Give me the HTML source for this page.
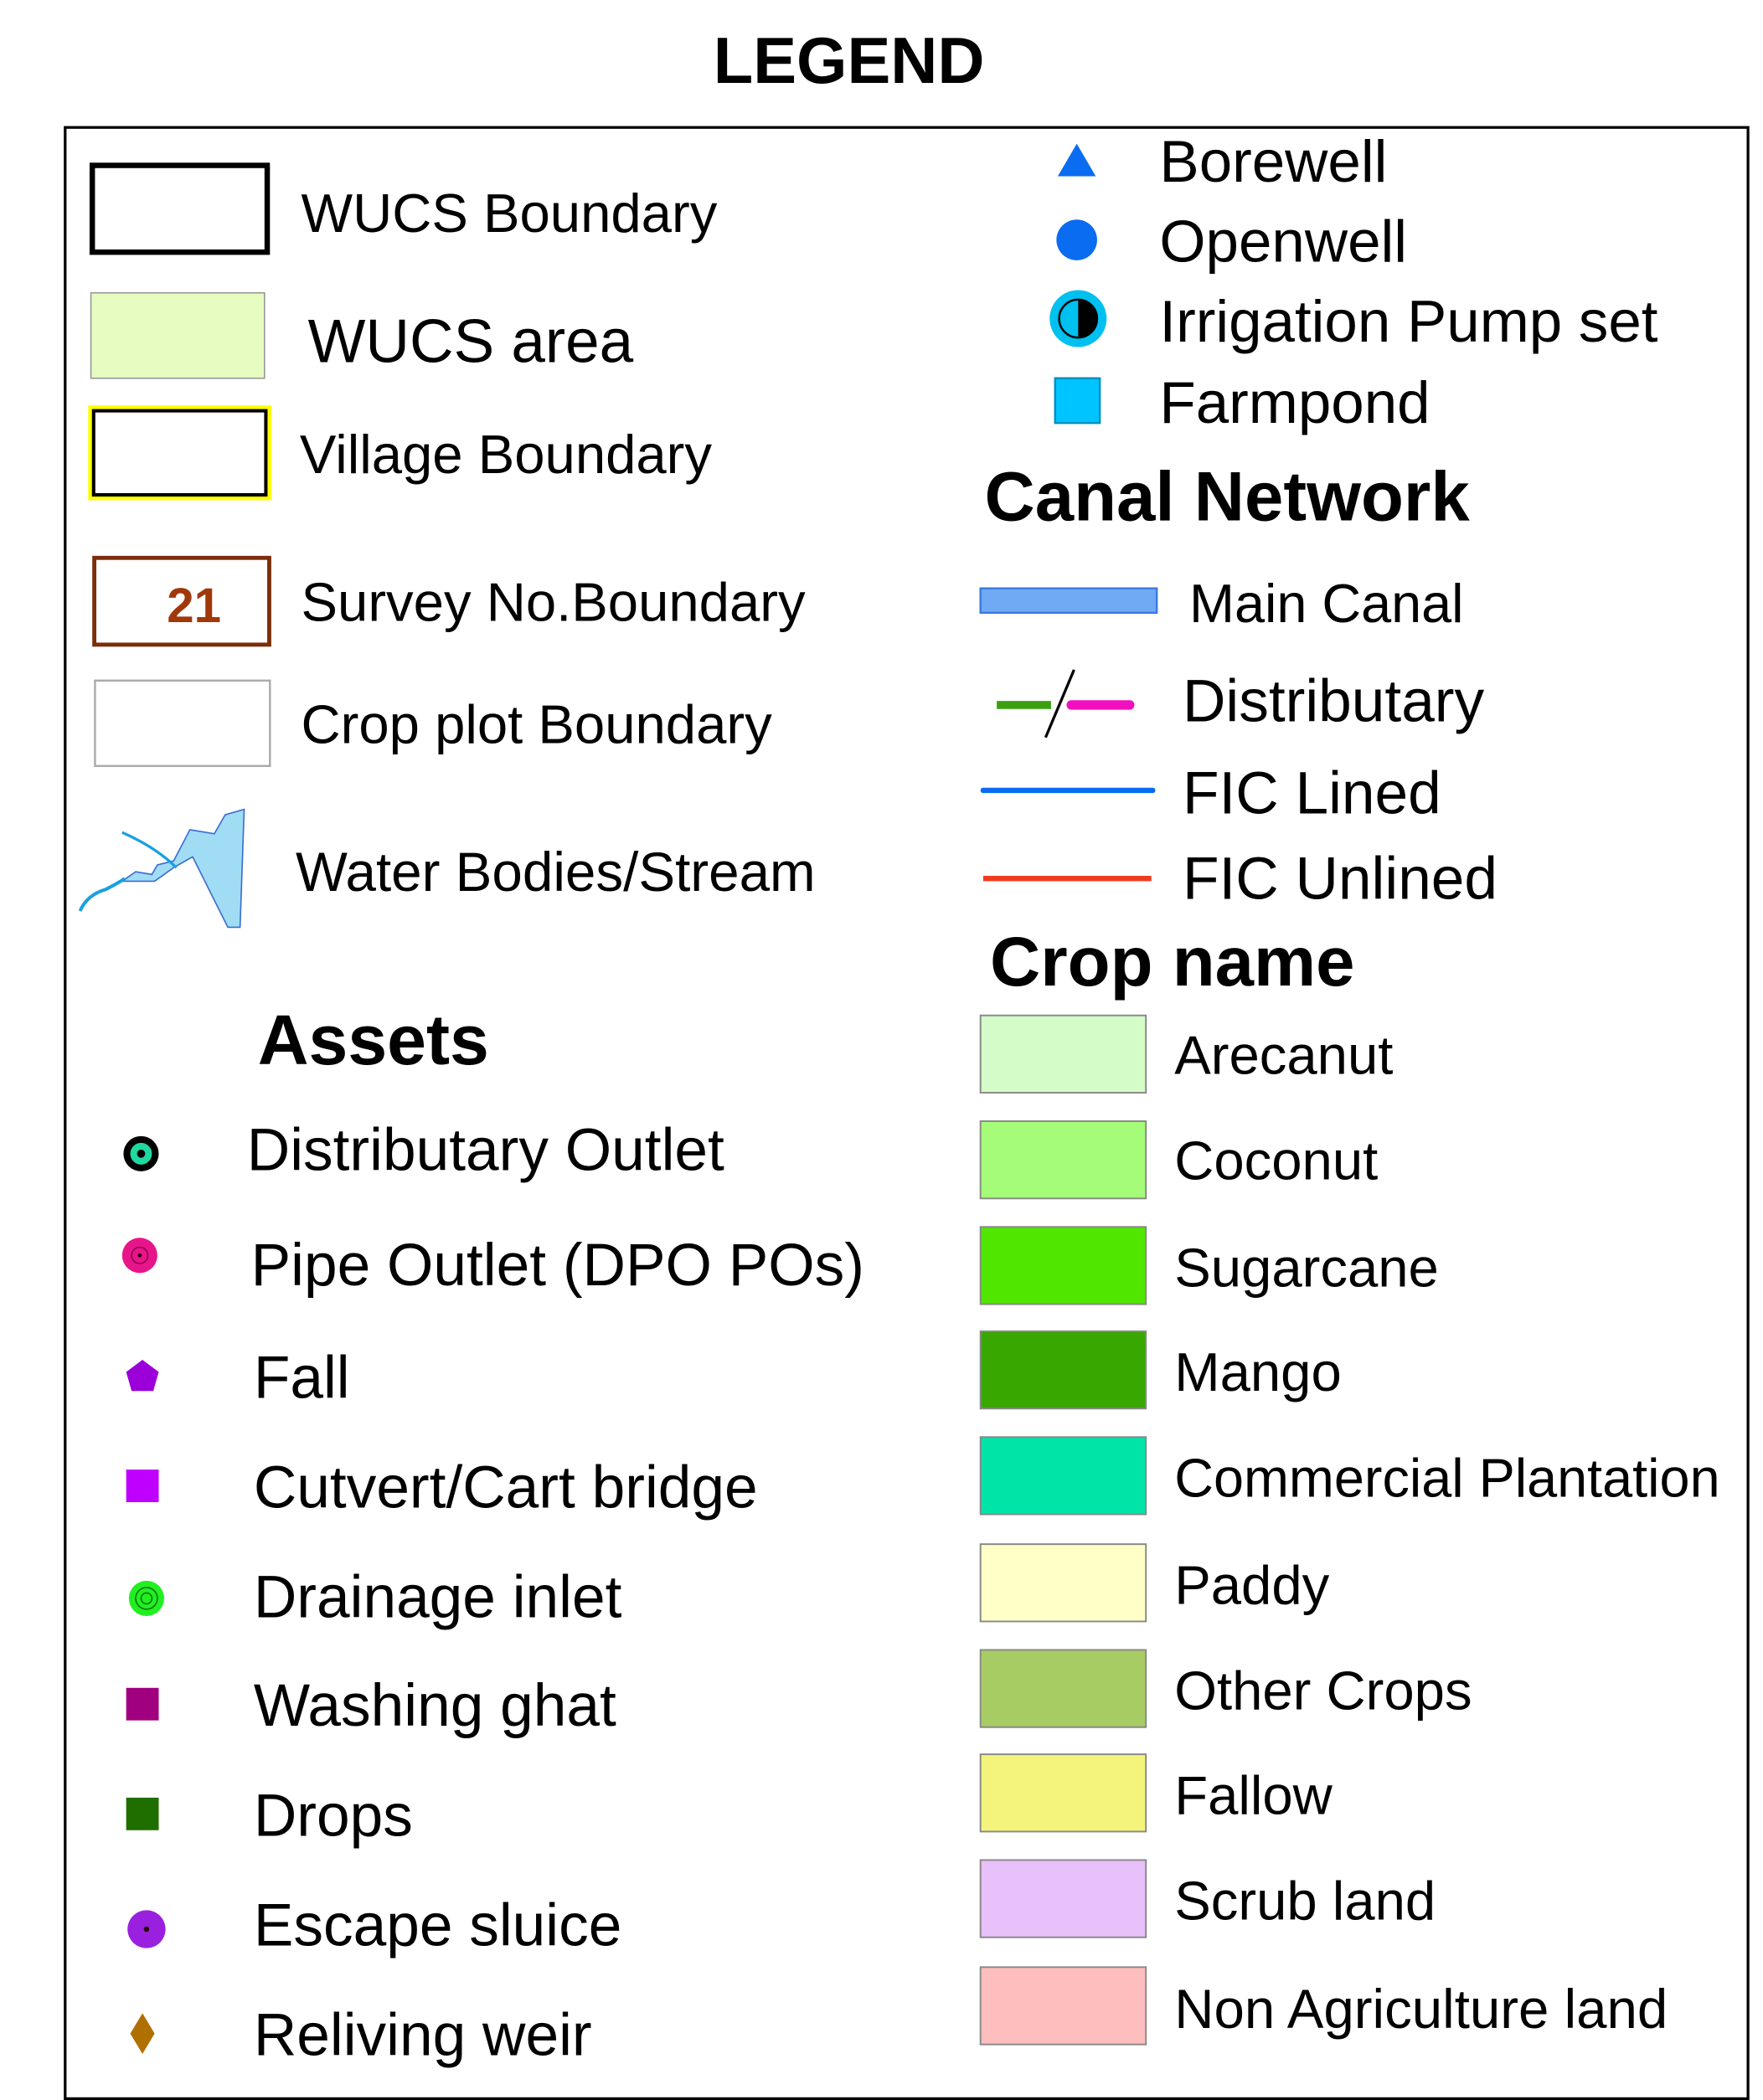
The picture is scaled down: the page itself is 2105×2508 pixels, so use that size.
<!DOCTYPE html>
<html><head><meta charset="utf-8"><style>
html,body{margin:0;padding:0;background:#fff;}
svg{display:block;}
text{font-family:"Liberation Sans",Arial,sans-serif;fill:#000;}
</style></head><body>
<svg width="2105" height="2508" viewBox="0 0 1300 1549" xmlns="http://www.w3.org/2000/svg">
<rect width="1300" height="1549" fill="#fff"/>
<text x="626" y="61" font-size="48" font-weight="bold" text-anchor="middle">LEGEND</text>
<rect x="48" y="94" width="1241" height="1454" fill="none" stroke="#000" stroke-width="2"/>

<!-- left column -->
<rect x="68" y="122" width="129" height="64" fill="none" stroke="#000" stroke-width="4"/>
<text x="222" y="171" font-size="40.3">WUCS Boundary</text>
<rect x="67" y="216" width="128" height="63" fill="#e6fcc0" stroke="#999" stroke-width="1"/>
<text x="227" y="267" font-size="45">WUCS area</text>
<rect x="67" y="301" width="131" height="66" fill="none" stroke="#ffff00" stroke-width="4"/>
<rect x="69" y="303" width="127" height="62" fill="none" stroke="#000" stroke-width="2.5"/>
<text x="221" y="349" font-size="40.3">Village Boundary</text>
<rect x="69.5" y="411.5" width="129" height="64" fill="none" stroke="#7a2e0a" stroke-width="3"/>
<text x="143" y="459" font-size="36" font-weight="bold" text-anchor="middle" style="fill:#a0380a">21</text>
<text x="222" y="458" font-size="40.3">Survey No.Boundary</text>
<rect x="70" y="502" width="129" height="63" fill="none" stroke="#aaa" stroke-width="1.5"/>
<text x="222" y="548" font-size="40.3">Crop plot Boundary</text>
<path d="M90,650 L100,643 L112,645 L116,638 L128,635 L140,612 L158,615 L166,601 L180,597 L177,684 L168,684 L152,652 L142,632 L128,640 L114,650 Z" fill="#a0dcf4" stroke="#3a6cd0" stroke-width="1"/>
<path d="M59,672 Q64,660 78,656 Q86,652 92,648" fill="none" stroke="#1aa0e0" stroke-width="2.5"/>
<path d="M90,614 Q115,625 130,640" fill="none" stroke="#1aa0e0" stroke-width="2"/>
<text x="218" y="657" font-size="40.5">Water Bodies/Stream</text>

<text x="190" y="785" font-size="52" font-weight="bold">Assets</text>
<circle cx="104" cy="851" r="13" fill="#000"/><circle cx="104" cy="851" r="8" fill="#20d8a0"/><circle cx="104" cy="851" r="3" fill="#000"/>
<text x="182" y="863" font-size="44">Distributary Outlet</text>
<circle cx="103" cy="926" r="13" fill="#e8158a"/><circle cx="103" cy="926" r="6" fill="none" stroke="#900050" stroke-width="1"/><circle cx="103" cy="926" r="1.5" fill="#300"/>
<text x="185" y="948" font-size="44">Pipe Outlet (DPO POs)</text>
<polygon points="105,1003 117,1012 113,1026 97,1026 93,1012" fill="#9b00d8"/>
<text x="187" y="1031" font-size="44">Fall</text>
<rect x="93" y="1084" width="24" height="24" fill="#c000ff"/>
<text x="187" y="1112" font-size="44">Cutvert/Cart bridge</text>
<circle cx="108" cy="1179" r="13" fill="#22ee22"/><circle cx="108" cy="1179" r="8" fill="none" stroke="#0a7a0a" stroke-width="1"/><circle cx="108" cy="1179" r="4" fill="none" stroke="#0a7a0a" stroke-width="1"/>
<text x="187" y="1193" font-size="44">Drainage inlet</text>
<rect x="93" y="1245" width="24" height="24" fill="#a0007f"/>
<text x="187" y="1273" font-size="44">Washing ghat</text>
<rect x="93" y="1326" width="24" height="24" fill="#1f6e00"/>
<text x="187" y="1354" font-size="44">Drops</text>
<circle cx="108" cy="1423" r="14" fill="#9a20e0"/><circle cx="108" cy="1423" r="2" fill="#200"/>
<text x="187" y="1435" font-size="44">Escape sluice</text>
<polygon points="105,1485 114,1500 105,1515 96,1500" fill="#b07000"/>
<text x="187" y="1516" font-size="44">Reliving weir</text>

<!-- right column -->
<polygon points="794,106 808,130 780,130" fill="#0a6cf0"/>
<text x="855" y="134" font-size="43.8">Borewell</text>
<circle cx="794" cy="177" r="15" fill="#0a6cf0"/>
<text x="855" y="193" font-size="43.8">Openwell</text>
<circle cx="795" cy="235" r="21" fill="#00c0f0"/>
<circle cx="795" cy="235" r="14" fill="#00c0f0" stroke="#000" stroke-width="1.5"/>
<path d="M795,221 A14,14 0 0 1 795,249 Z" fill="#000"/>
<text x="855" y="252" font-size="43.8">Irrigation Pump set</text>
<rect x="778" y="279" width="33" height="33" fill="#00c4ff" stroke="#0090c0" stroke-width="1.5"/>
<text x="855" y="312" font-size="43.8">Farmpond</text>

<text x="726" y="384" font-size="51.5" font-weight="bold">Canal Network</text>
<rect x="723" y="434" width="130" height="18" fill="#70aaf5" stroke="#3a7ae0" stroke-width="1.5"/>
<text x="877" y="459" font-size="40">Main Canal</text>
<line x1="735" y1="520" x2="775" y2="520" stroke="#3aa010" stroke-width="6"/>
<line x1="790" y1="520" x2="833" y2="520" stroke="#f010c0" stroke-width="7" stroke-linecap="round"/>
<line x1="792" y1="494" x2="771" y2="544" stroke="#000" stroke-width="2"/>
<text x="872" y="532" font-size="44">Distributary</text>
<line x1="725" y1="583" x2="850" y2="583" stroke="#0a6cf0" stroke-width="4" stroke-linecap="round"/>
<text x="872" y="600" font-size="44">FIC Lined</text>
<line x1="725" y1="648" x2="849" y2="648" stroke="#f03c1e" stroke-width="4"/>
<text x="872" y="663" font-size="44">FIC Unlined</text>

<text x="730" y="727" font-size="51.5" font-weight="bold">Crop name</text>
<g stroke="#888" stroke-width="1.2">
<rect x="723" y="749" width="122" height="57" fill="#d4fcc8"/>
<rect x="723" y="827" width="122" height="57" fill="#a4fc78"/>
<rect x="723" y="905" width="122" height="57" fill="#50e600"/>
<rect x="723" y="982" width="122" height="57" fill="#38a800"/>
<rect x="723" y="1060" width="122" height="57" fill="#00e4a8"/>
<rect x="723" y="1139" width="122" height="57" fill="#ffffc8"/>
<rect x="723" y="1217" width="122" height="57" fill="#a8cc64"/>
<rect x="723" y="1294" width="122" height="57" fill="#f4f47c"/>
<rect x="723" y="1372" width="122" height="57" fill="#e8c0fa"/>
<rect x="723" y="1451" width="122" height="57" fill="#ffbebe"/>
</g>
<text x="866" y="792" font-size="40.3">Arecanut</text>
<text x="866" y="870" font-size="40.3">Coconut</text>
<text x="866" y="949" font-size="40.3">Sugarcane</text>
<text x="866" y="1026" font-size="40.3">Mango</text>
<text x="866" y="1104" font-size="40">Commercial Plantation</text>
<text x="866" y="1183" font-size="40.3">Paddy</text>
<text x="866" y="1261" font-size="40.3">Other Crops</text>
<text x="866" y="1338" font-size="40.3">Fallow</text>
<text x="866" y="1416" font-size="40.3">Scrub land</text>
<text x="866" y="1496" font-size="40.4">Non Agriculture land</text>
</svg>
</body></html>
